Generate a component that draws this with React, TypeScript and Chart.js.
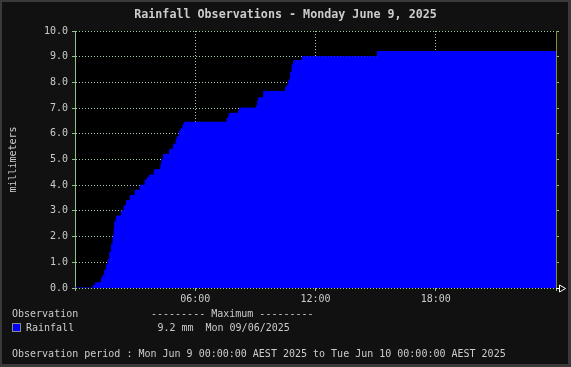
import React, { useEffect, useRef } from 'react';
import { Chart, registerables } from 'chart.js';

Chart.register(...registerables);

const TITLE = 'Rainfall Observations - Monday June 9, 2025';
const Y_AXIS_LABEL = 'millimeters';
const LEGEND_HEADER = ['Observation', '--------- Maximum ---------'];
const SERIES_NAME = 'Rainfall';
const MAX_DATE = 'Mon 09/06/2025';
const PERIOD_TEXT = 'Observation period : Mon Jun 9 00:00:00 AEST 2025 to Tue Jun 10 00:00:00 AEST 2025';

// Observation times (HH:MM) and cumulative rainfall (mm) from that time on
const obsTimes = [
  '00:00', '00:54', '01:01', '01:19', '01:24', '01:29', '01:34', '01:39', '01:44', '01:49',
  '01:54', '01:57', '01:59', '02:04', '02:19', '02:27', '02:34', '02:45', '03:00', '03:15',
  '03:30', '03:37', '03:43', '03:57', '04:17', '04:20', '04:25', '04:43', '04:55', '05:03',
  '05:07', '05:12', '05:17', '05:23', '05:27', '07:35', '07:40', '07:43', '08:10', '08:13',
  '09:03', '09:07', '09:10', '09:25', '10:30', '10:35', '10:40', '10:45', '10:50', '10:55',
  '11:20', '15:05', '24:00',
];
const rainTotals = [
  0.0, 0.1, 0.2, 0.4, 0.5, 0.7, 0.9, 1.1, 1.4, 1.7,
  2.0, 2.3, 2.6, 2.8, 3.0, 3.2, 3.4, 3.6, 3.8, 4.0,
  4.2, 4.3, 4.4, 4.6, 4.8, 5.0, 5.2, 5.4, 5.6, 5.8,
  5.9, 6.1, 6.2, 6.35, 6.45, 6.6, 6.7, 6.8, 6.9, 7.0,
  7.1, 7.3, 7.4, 7.65, 7.8, 7.9, 8.1, 8.4, 8.7, 8.85,
  9.0, 9.2, 9.2,
];

const xTickHours = [6, 12, 18];
const xTickLabels = ['06:00', '12:00', '18:00'];
const yMin = 0;
const yMax = 10;

const FONT = '"DejaVu Sans Mono", monospace';
const TEXT = '#cccccc';
const GRID = '#a8cca8';
const AXIS = '#8fc08f';
const RIGHT_BORDER = '#8a8a34';

const toHours = (s: string) => {
  const [h, m] = s.split(':').map(Number);
  return h + m / 60;
};

const decorPlugin = {
  id: 'decor',
  beforeDraw(chart: any) {
    const { ctx, width, height, chartArea: a } = chart;
    ctx.save();
    ctx.fillStyle = '#3a3a3a';
    ctx.fillRect(0, 0, width, height);
    ctx.fillStyle = '#111111';
    ctx.fillRect(2, 2, width - 5, height - 5);
    ctx.fillStyle = '#000000';
    ctx.fillRect(a.left, a.top, a.right - a.left, a.bottom - a.top);
    ctx.restore();
  },
  afterDraw(chart: any) {
    const { ctx, chartArea: a, width } = chart;
    ctx.save();
    ctx.fillStyle = TEXT;
    ctx.textBaseline = 'alphabetic';
    ctx.textAlign = 'center';
    ctx.font = `bold 11.7px ${FONT}`;
    ctx.fillText(TITLE, width / 2, 18);

    ctx.textAlign = 'left';
    ctx.font = `10px ${FONT}`;
    ctx.fillText(LEGEND_HEADER[0], 12, 317);
    ctx.fillText(LEGEND_HEADER[1], 151, 317);
    ctx.fillText(SERIES_NAME, 26, 331);
    const maxVal = Math.max(...rainTotals);
    ctx.fillText(`${maxVal.toFixed(1)} mm`, 157.5, 331);
    ctx.fillText(MAX_DATE, 205.5, 331);
    ctx.fillText(PERIOD_TEXT, 12, 357);

    // legend swatch
    ctx.fillStyle = '#0000ff';
    ctx.fillRect(13, 324, 8, 8);
    ctx.strokeStyle = '#8a8a8a';
    ctx.lineWidth = 1;
    ctx.strokeRect(12.5, 323.5, 8, 8);

    // axis arrow
    ctx.strokeStyle = '#ffffff';
    ctx.beginPath();
    ctx.moveTo(a.right, a.bottom + 0.5);
    ctx.lineTo(a.right + 3, a.bottom + 0.5);
    ctx.moveTo(a.right + 3.5, a.bottom - 3);
    ctx.lineTo(a.right + 9.5, a.bottom + 0.5);
    ctx.lineTo(a.right + 3.5, a.bottom + 4);
    ctx.closePath();
    ctx.stroke();
    ctx.restore();
  },
};

export default function App() {
  const ref = useRef<HTMLCanvasElement | null>(null);

  useEffect(() => {
    document.body.style.margin = '0';
    document.body.style.background = '#111111';
    const canvas = ref.current;
    if (!canvas) return;
    const points = obsTimes.map((t, i) => ({ x: toHours(t), y: rainTotals[i] }));
    const chart = new Chart(canvas, {
      type: 'line',
      data: {
        datasets: [
          {
            label: SERIES_NAME,
            data: points,
            stepped: true,
            fill: 'origin',
            backgroundColor: '#0000ff',
            borderColor: '#0000ff',
            borderWidth: 1,
            pointRadius: 0,
          },
        ],
      },
      plugins: [decorPlugin],
      options: {
        animation: false,
        responsive: false,
        devicePixelRatio: 1,
        layout: { padding: { left: 0, top: 31, right: 0, bottom: 0 } },
        plugins: { legend: { display: false }, tooltip: { enabled: false }, title: { display: false } },
        scales: {
          x: {
            type: 'linear',
            min: 0,
            max: 24,
            z: 1,
            afterBuildTicks: (scale: any) => {
              scale.ticks = [0, ...xTickHours, 24].map((v) => ({ value: v }));
            },
            ticks: {
              color: TEXT,
              font: { family: FONT, size: 10 },
              padding: 2,
              maxRotation: 0,
              autoSkip: false,
              callback: (v: any) => {
                const i = xTickHours.indexOf(Number(v));
                return i >= 0 ? xTickLabels[i] : '';
              },
            },
            grid: { color: GRID, lineWidth: 1, drawTicks: true, tickLength: 3, tickColor: AXIS },
            border: { display: false, dash: [1, 2] },
            afterFit: (scale: any) => {
              scale.height = 79;
            },
          },
          y: {
            type: 'linear',
            position: 'left',
            min: yMin,
            max: yMax,
            z: 1,
            ticks: {
              stepSize: 1,
              color: TEXT,
              font: { family: FONT, size: 10 },
              padding: 4,
              callback: (v: any) => Number(v).toFixed(1),
            },
            title: {
              display: true,
              text: Y_AXIS_LABEL,
              color: TEXT,
              font: { family: FONT, size: 10 },
              padding: { top: 7, bottom: 0 },
            },
            grid: { color: GRID, lineWidth: 1, drawTicks: true, tickLength: 3, tickColor: AXIS },
            border: { display: true, color: AXIS, width: 1, dash: [1, 2] },
            afterFit: (scale: any) => {
              scale.width = 75;
            },
          },
          y2: {
            type: 'linear',
            position: 'right',
            min: yMin,
            max: yMax,
            z: 1,
            ticks: { stepSize: 1, display: false },
            grid: { drawOnChartArea: false, drawTicks: true, tickLength: 3, tickColor: AXIS },
            border: { display: true, color: RIGHT_BORDER, width: 1 },
            afterFit: (scale: any) => {
              scale.width = 15;
            },
          },
        },
      },
    } as any);
    return () => chart.destroy();
  }, []);

  return <canvas ref={ref} width={571} height={367} style={{ display: 'block', width: 571, height: 367 }} />;
}
